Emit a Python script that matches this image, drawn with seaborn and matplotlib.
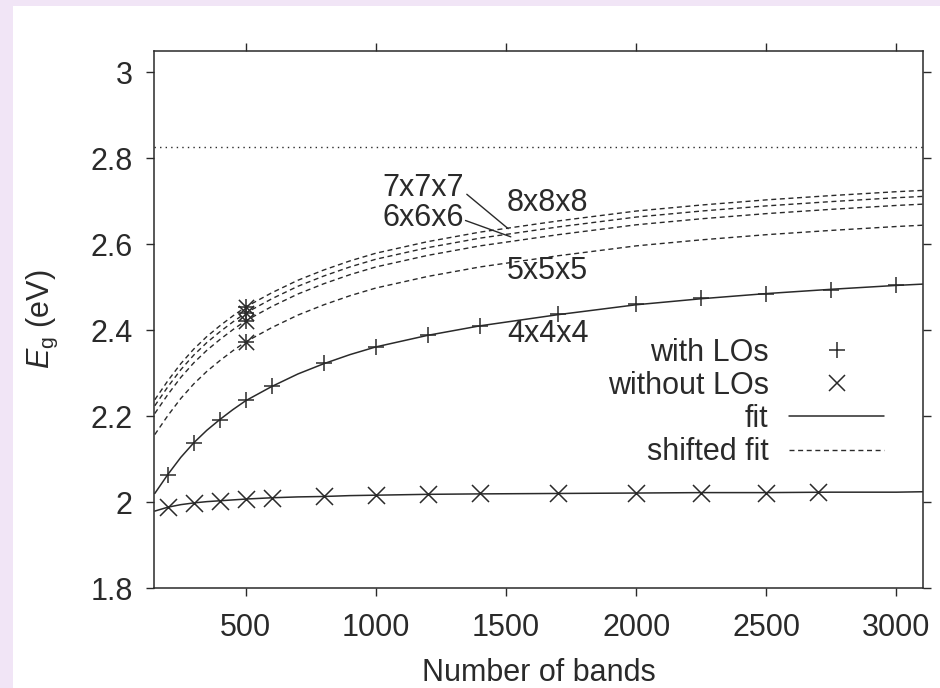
import matplotlib
matplotlib.use("Agg")
import matplotlib.pyplot as plt
from matplotlib.lines import Line2D
from matplotlib.patches import Rectangle
import seaborn as sns

# Données
fit_x = [150, 200, 250, 300, 350, 400, 450, 500, 600, 700, 800, 900, 1000,
         1200, 1400, 1700, 2000, 2250, 2500, 2750, 3000, 3100]
fit_with = [2.020, 2.064, 2.104, 2.138, 2.167, 2.192, 2.215, 2.236, 2.269, 2.298, 2.322,
            2.343, 2.361, 2.388, 2.410, 2.436, 2.459, 2.473, 2.485, 2.495, 2.504, 2.507]
fit_without = [1.979, 1.988, 1.994, 1.998, 2.001, 2.003, 2.005, 2.007, 2.010, 2.012, 2.013,
               2.015, 2.016, 2.018, 2.019, 2.020, 2.021, 2.022, 2.022, 2.023, 2.023, 2.024]

shift_5 = [2.157, 2.201, 2.241, 2.275, 2.304, 2.329, 2.352, 2.373, 2.406, 2.435, 2.459,
           2.480, 2.498, 2.525, 2.547, 2.573, 2.596, 2.610, 2.622, 2.632, 2.641, 2.644]
shift_6 = [2.206, 2.250, 2.290, 2.324, 2.353, 2.378, 2.401, 2.422, 2.455, 2.484, 2.508,
           2.529, 2.547, 2.574, 2.596, 2.622, 2.645, 2.659, 2.671, 2.681, 2.690, 2.693]
shift_7 = [2.224, 2.268, 2.308, 2.342, 2.371, 2.396, 2.419, 2.440, 2.473, 2.502, 2.526,
           2.547, 2.565, 2.592, 2.614, 2.640, 2.663, 2.677, 2.689, 2.699, 2.708, 2.711]
shift_8 = [2.238, 2.282, 2.322, 2.356, 2.385, 2.410, 2.433, 2.454, 2.487, 2.516, 2.540,
           2.561, 2.579, 2.606, 2.628, 2.654, 2.677, 2.691, 2.703, 2.713, 2.722, 2.725]

n_with = [200, 300, 400, 500, 600, 800, 1000, 1200, 1400, 1700, 2000, 2250, 2500, 2750, 3000]
eg_with = [2.064, 2.138, 2.192, 2.237, 2.269, 2.324, 2.361, 2.388, 2.410, 2.437, 2.461,
           2.475, 2.485, 2.494, 2.506]
n_without = [200, 300, 400, 500, 600, 800, 1000, 1200, 1400, 1700, 2000, 2250, 2500, 2700]
eg_without = [1.988, 1.998, 2.003, 2.007, 2.010, 2.014, 2.017, 2.019, 2.020, 2.021, 2.022,
              2.022, 2.022, 2.023]

star_n = [500, 500, 500, 500]
star_eg = [2.373, 2.422, 2.440, 2.454]

eg_ref = 2.826

x_ticks = [500, 1000, 1500, 2000, 2500, 3000]
y_ticks = [1.8, 2.0, 2.2, 2.4, 2.6, 2.8, 3.0]
y_tick_labels = ["1.8", "2", "2.2", "2.4", "2.6", "2.8", "3"]

# Style
sns.set_theme(style="ticks")
plt.rcParams["font.family"] = ["Liberation Sans", "DejaVu Sans"]
plt.rcParams["mathtext.fontset"] = "custom"
plt.rcParams["mathtext.rm"] = "Liberation Sans"
plt.rcParams["mathtext.it"] = "Liberation Sans:italic"

INK = "#2a2a2a"
FS = 22
DASH = (0, (3.6, 2.6))

fig = plt.figure(figsize=(9.4, 6.88), dpi=100, facecolor="#f1e5f6")
fig.patches.append(Rectangle((13 / 940, 0), 1, 682 / 688, transform=fig.transFigure,
                             facecolor="white", edgecolor="none", zorder=-1))
ax = fig.add_axes([0.1641, 0.1453, 0.8181, 0.781])

# Courbes
ax.axhline(eg_ref, color=INK, lw=1.0, linestyle=(0, (1, 3)))
for ys in (shift_5, shift_6, shift_7, shift_8):
    sns.lineplot(x=fit_x, y=ys, ax=ax, color=INK, lw=1.0, linestyle=DASH,
                 estimator=None, sort=False)
sns.lineplot(x=fit_x, y=fit_with, ax=ax, color=INK, lw=1.1, estimator=None, sort=False)
sns.lineplot(x=fit_x, y=fit_without, ax=ax, color=INK, lw=1.1, estimator=None, sort=False)

# Points
sns.scatterplot(x=n_with, y=eg_with, ax=ax, marker="+", s=140, color=INK, linewidth=1.1, zorder=3)
sns.scatterplot(x=n_without, y=eg_without, ax=ax, marker="x", s=150, color=INK, linewidth=1.1, zorder=3)
sns.scatterplot(x=star_n, y=star_eg, ax=ax, marker="+", s=140, color=INK, linewidth=1.1, zorder=3)
sns.scatterplot(x=star_n, y=star_eg, ax=ax, marker="x", s=120, color=INK, linewidth=1.1, zorder=3)

# Etiquettes des grilles k
ax.text(1026, 2.731, "7x7x7", fontsize=FS, color=INK, ha="left", va="center")
ax.text(1026, 2.660, "6x6x6", fontsize=FS, color=INK, ha="left", va="center")
ax.text(1503, 2.696, "8x8x8", fontsize=FS, color=INK, ha="left", va="center")
ax.text(1503, 2.537, "5x5x5", fontsize=FS, color=INK, ha="left", va="center")
ax.text(1503, 2.392, "4x4x4", fontsize=FS, color=INK, ha="left", va="center")
ax.plot([1349, 1508], [2.716, 2.636], color=INK, lw=1.0)
ax.plot([1344, 1518], [2.655, 2.617], color=INK, lw=1.0)

# Légende
handles = [
    Line2D([], [], ls="none", marker="+", ms=12, mew=1.1, color=INK),
    Line2D([], [], ls="none", marker="x", ms=11, mew=1.1, color=INK),
    Line2D([], [], color=INK, lw=1.1),
    Line2D([], [], color=INK, lw=1.0, linestyle=DASH),
]
labels = ["with LOs", "without LOs", "fit", "shifted fit"]
ax.legend(handles, labels, loc="center right", bbox_to_anchor=(0.949, 0.345),
          frameon=False, markerfirst=False, fontsize=FS, handlelength=3.1,
          handletextpad=0.68, labelspacing=0.1, borderpad=0, borderaxespad=0,
          labelcolor=INK)

# Axes
ax.set_xlim(148, 3103)
ax.set_ylim(1.8, 3.05)
ax.set_xticks(x_ticks)
ax.set_yticks(y_ticks)
ax.set_yticklabels(y_tick_labels)
ax.tick_params(direction="out", length=6, width=1.0, top=True, right=True,
               labeltop=False, labelright=False, labelsize=FS,
               colors=INK, labelcolor=INK)
ax.tick_params(axis="x", pad=12)
ax.tick_params(axis="y", pad=9.5)
for sp in ax.spines.values():
    sp.set_color(INK)
    sp.set_linewidth(1.1)

ax.set_xlabel("Number of bands", fontsize=FS, color=INK, labelpad=10.5)
ax.set_ylabel(r"$E_\mathrm{g}$ (eV)", fontsize=FS, color=INK, labelpad=22)

fig.savefig("out.png", dpi=100, facecolor=fig.get_facecolor())
plt.close(fig)
